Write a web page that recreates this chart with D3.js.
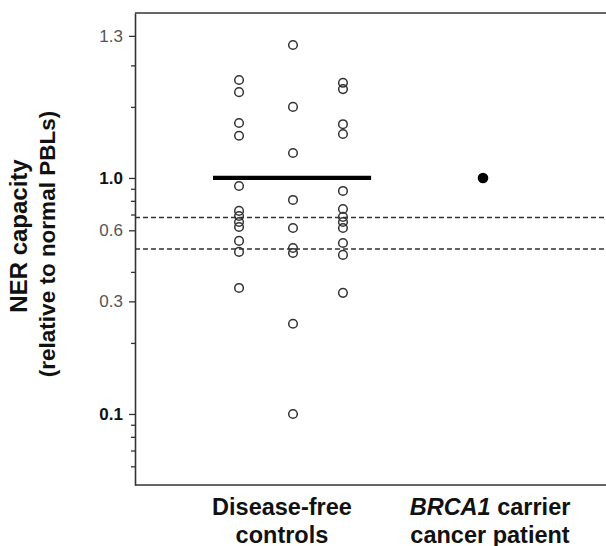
<!DOCTYPE html>
<html>
    <head>
        <meta charset="utf-8">
        <title>NER capacity</title>
        <script src="https://d3js.org/d3.v7.min.js"></script>
        <style>
            body { margin: 0; background: #fff; }
            svg text { font-family: "Liberation Sans", Arial, sans-serif; }
        </style>
    </head>
    <body>
        <div id="my_dataviz"></div>

        <script>
            // values (NER capacity, relative to normal PBLs)
            var groups = ["Disease-free controls", "BRCA1 carrier cancer patient"];
            var controlsLeft  = [2.60, 2.31, 1.71, 1.51, 0.925, 0.725, 0.690, 0.651, 0.620, 0.541, 0.486, 0.342];
            var controlsMid   = [3.66, 2.00, 1.276, 0.807, 0.614, 0.505, 0.481, 0.241, 0.100];
            var controlsRight = [2.53, 2.38, 1.69, 1.536, 0.881, 0.739, 0.684, 0.651, 0.614, 0.530, 0.472, 0.326];
            var patientValue  = [1.0];
            var controlsMean  = 1.0;
            var cutoffs       = [0.68, 0.5];

            // y axis ticks, labels as printed on the figure
            var tickValues = [0.1, 0.3, 0.6, 1, 4];
            var tickLabels = ["0.1", "0.3", "0.6", "1.0", "1.3"];
            var minorTicks = [0.06, 0.07, 0.08, 0.09, 0.2, 0.4, 0.7, 0.8, 0.9, 2, 3];

            var W = 606, H = 546;
            var margin = {top: 13, left: 135, bottom: 61};

            var svg = d3.select("#my_dataviz")
              .append("svg")
                .attr("width", W)
                .attr("height", H);

            var y = d3.scaleLog()
                .domain([0.05, 5])
                .range([H - margin.bottom, margin.top]);

            // group index -> pixel
            var x = d3.scaleLinear()
                .domain([0, 1])
                .range([293, 483]);

            // frame: top and bottom lines run off the right edge
            svg.append("line")
                .attr("x1", margin.left).attr("x2", W + 20)
                .attr("y1", y(5)).attr("y2", y(5))
                .attr("stroke", "#333").attr("stroke-width", 1.6);
            svg.append("line")
                .attr("x1", margin.left).attr("x2", W + 20)
                .attr("y1", y(0.05)).attr("y2", y(0.05))
                .attr("stroke", "#333").attr("stroke-width", 1.6);

            // minor ticks
            svg.append("g")
                .attr("transform", "translate(" + margin.left + ",0)")
                .call(d3.axisLeft(y).tickValues(minorTicks).tickFormat("").tickSize(4).tickSizeOuter(0))
                .call(function (g) { g.select(".domain").remove(); })
                .selectAll("line").attr("stroke", "#333").attr("stroke-width", 1.3);

            // major ticks + labels
            var isBold = function (d, i) { return tickLabels[i] == "1.0" || tickLabels[i] == "0.1"; };
            var yAxis = svg.append("g")
                .attr("transform", "translate(" + margin.left + ",0)")
                .attr("font-size", null)
                .call(d3.axisLeft(y)
                    .tickValues(tickValues)
                    .tickFormat(function (d, i) { return tickLabels[i]; })
                    .tickSize(6)
                    .tickSizeOuter(0)
                    .tickPadding(6));
            yAxis.attr("font-size", 17);
            yAxis.select(".domain").attr("stroke", "#333").attr("stroke-width", 1.6);
            yAxis.selectAll(".tick line").attr("stroke", "#333").attr("stroke-width", 1.3);
            yAxis.selectAll(".tick text")
                .attr("font-size", 17)
                .style("font-weight", function (d, i) { return isBold(d, i) ? "bold" : "normal"; })
                .attr("fill", function (d, i) { return isBold(d, i) ? "#111" : "#555"; });

            // cutoff dashed lines
            svg.append("g")
                .selectAll("line")
                .data(cutoffs)
                .enter()
                .append("line")
                  .attr("x1", margin.left).attr("x2", W + 20)
                  .attr("y1", function (d) { return y(d); })
                  .attr("y2", function (d) { return y(d); })
                  .attr("stroke", "#333")
                  .attr("stroke-width", 1.3)
                  .attr("stroke-dasharray", "5,3");

            // control dots in three sub-columns
            var cols = [
                {off: -0.284, vals: controlsLeft},
                {off: 0, vals: controlsMid},
                {off: 0.263, vals: controlsRight}
            ];
            cols.forEach(function (c) {
                svg.append("g")
                    .selectAll("circle")
                    .data(c.vals)
                    .enter()
                    .append("circle")
                      .attr("cx", x(0 + c.off))
                      .attr("cy", function (d) { return y(d); })
                      .attr("r", 4.3)
                      .attr("fill", "none")
                      .attr("stroke", "#333")
                      .attr("stroke-width", 1.5);
            });

            // mean bar of the controls
            svg.append("line")
                .attr("x1", x(-0.421)).attr("x2", x(0.411))
                .attr("y1", y(controlsMean)).attr("y2", y(controlsMean))
                .attr("stroke", "#000")
                .attr("stroke-width", 4.2);

            // patient
            svg.append("g")
                .selectAll("circle")
                .data(patientValue)
                .enter()
                .append("circle")
                  .attr("cx", x(1))
                  .attr("cy", function (d) { return y(d); })
                  .attr("r", 5.3)
                  .attr("fill", "#000");

            // x labels
            var lab1 = svg.append("text")
                .attr("x", x(-0.058)).attr("y", 515)
                .attr("text-anchor", "middle")
                .style("font-size", "23.5px").style("font-weight", "bold").attr("fill", "#111");
            lab1.append("tspan").attr("x", x(-0.058)).attr("dy", 0).text("Disease-free");
            lab1.append("tspan").attr("x", x(-0.058)).attr("dy", 27.5).text("controls");

            var lab2 = svg.append("text")
                .attr("x", x(1.037)).attr("y", 515)
                .attr("text-anchor", "middle")
                .style("font-size", "23.5px").style("font-weight", "bold").attr("fill", "#111");
            var l2a = lab2.append("tspan").attr("x", x(1.037)).attr("dy", 0);
            l2a.append("tspan").style("font-style", "italic").text("BRCA1");
            l2a.append("tspan").text(" carrier");
            lab2.append("tspan").attr("x", x(1.037)).attr("dy", 27.5).text("cancer patient");

            // y title
            var yt = svg.append("g")
                .attr("transform", "rotate(-90)")
                .style("font-weight", "bold").attr("fill", "#111");
            yt.append("text")
                .attr("x", -236).attr("y", 27)
                .attr("text-anchor", "middle")
                .style("font-size", "24px")
                .text("NER capacity");
            yt.append("text")
                .attr("x", -244).attr("y", 55)
                .attr("text-anchor", "middle")
                .style("font-size", "22.5px")
                .text("(relative to normal PBLs)");
        </script>
    </body>
</html>
